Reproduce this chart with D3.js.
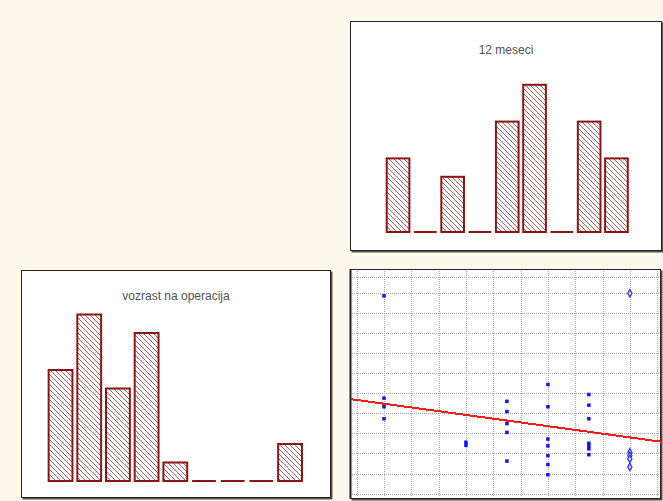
<!DOCTYPE html>
<html>
<head>
<meta charset="utf-8">
<script src="https://cdn.jsdelivr.net/npm/d3@7"></script>
<style>
  body { margin: 0; background: #fcf8eb; }
  svg { display: block; }
</style>
</head>
<body>
<script>
// histogram counts, 9 bins each
let binsTop = ["1", "2", "3", "4", "5", "6", "7", "8", "9"];
let countsTop = [4, 0, 3, 0, 6, 8, 0, 6, 4];
let titleTop = "12 meseci";

let binsBottom = ["1", "2", "3", "4", "5", "6", "7", "8", "9"];
let countsBottom = [6, 9, 5, 8, 1, 0, 0, 0, 2];
let titleBottom = "vozrast na operacija";

// scatter points (filled squares)
let scatterX = [1, 1, 1, 1,
    4, 4,
    5.5, 5.5, 5.5, 5.5, 5.5,
    7, 7, 7, 7, 7, 7, 7,
    8.5, 8.5, 8.5, 8.5, 8.5, 8.5, 8.5];
let scatterY = [9.86, 4.76, 4.33, 3.73,
    2.56, 2.41,
    4.6, 4.09, 3.49, 3.05, 1.62,
    5.44, 4.33, 2.72, 2.38, 1.89, 1.45, 0.94,
    4.94, 4.41, 3.73, 2.51, 2.37, 2.23, 1.94];
// hollow diamond points
let hollowX = [10, 10, 10, 10, 10];
let hollowY = [9.99, 2.06, 1.89, 1.73, 1.33];
// fitted line end points
let fitX = [-0.22, 11.13];
let fitY = [4.71, 2.59];
let gridX = [0, 1, 2, 3, 4, 5, 6, 7, 8, 9, 10, 11];
let gridY = [0, 1, 2, 3, 4, 5, 6, 7, 8, 9, 10, 10.8];

let width = 663,
    height = 501;
let barColor = "#8b1414";

let svg = d3.select("body").append("svg")
    .attr("width", width)
    .attr("height", height);

let defs = svg.append("defs");
defs.append("pattern")
    .attr("id", "hatch")
    .attr("patternUnits", "userSpaceOnUse")
    .attr("width", 5)
    .attr("height", 5)
    .append("path")
    .attr("d", "M-1,-1L6,6M-1,4L1,6M4,-1L6,1")
    .attr("stroke", "#9a3030")
    .attr("stroke-width", 0.8);

function panel(x0, y0, x1, y1) {
    let g = svg.append("g");
    g.append("rect")
        .attr("x", x0 + 1.5).attr("y", y0 + 1.5)
        .attr("width", x1 - x0).attr("height", y1 - y0)
        .attr("fill", "#555");
    g.append("rect")
        .attr("x", x0 + 0.5).attr("y", y0 + 0.5)
        .attr("width", x1 - x0 - 1).attr("height", y1 - y0 - 1)
        .attr("fill", "#fff")
        .attr("stroke", "#222")
        .attr("stroke-width", 1);
    return g;
}

function histogram(g, bins, counts, title, xr, base, unit, titleX, titleY) {
    let x = d3.scaleBand()
        .domain(bins)
        .range(xr)
        .paddingInner(0.17)
        .paddingOuter(0.085);
    let y = d3.scaleLinear()
        .domain([0, 9])
        .range([base, base - 9 * unit]);

    g.append("text")
        .attr("x", titleX)
        .attr("y", titleY)
        .attr("text-anchor", "middle")
        .attr("font-family", "Liberation Sans, Arial, sans-serif")
        .attr("font-size", 12)
        .attr("fill", "#50505a")
        .text(title);

    let data = bins.map((b, i) => ({bin: b, n: counts[i]}));

    g.selectAll(".bar")
        .data(data.filter(d => d.n > 0))
        .enter().append("rect")
        .attr("class", "bar")
        .attr("x", d => x(d.bin))
        .attr("y", d => y(d.n))
        .attr("width", x.bandwidth())
        .attr("height", d => y(0) - y(d.n))
        .attr("fill", "url(#hatch)")
        .attr("stroke", barColor)
        .attr("stroke-width", 2);

    g.selectAll(".empty")
        .data(data.filter(d => d.n === 0))
        .enter().append("line")
        .attr("class", "empty")
        .attr("x1", d => x(d.bin))
        .attr("x2", d => x(d.bin) + x.bandwidth())
        .attr("y1", y(0))
        .attr("y2", y(0))
        .attr("stroke", barColor)
        .attr("stroke-width", 2);
}

// top right histogram
let gTop = panel(350, 21, 662, 251);
histogram(gTop, binsTop, countsTop, titleTop, [384.4, 630.1], 232, 18.4, 506, 54);

// bottom left histogram
let gBottom = panel(21, 270, 331, 498);
histogram(gBottom, binsBottom, countsBottom, titleBottom, [46.2, 304.4], 481, 18.5, 176, 300);

// scatter panel
let gSc = panel(350, 269, 661, 499);
gSc.append("line")
    .attr("x1", 350.5).attr("x2", 350.5)
    .attr("y1", 269).attr("y2", 499)
    .attr("stroke", "#222").attr("stroke-width", 2);

let sx = d3.scaleLinear().domain([-0.22, 11.13]).range([350.7, 660.7]);
let sy = d3.scaleLinear().domain([-0.27, 11.2]).range([499, 269]);

gSc.selectAll(".gx")
    .data(gridX)
    .enter().append("line")
    .attr("class", "gx")
    .attr("x1", d => Math.round(sx(d)) + 0.5)
    .attr("x2", d => Math.round(sx(d)) + 0.5)
    .attr("y1", 271).attr("y2", 497)
    .attr("stroke", "#a8a8a8")
    .attr("stroke-dasharray", "1,1");

gSc.selectAll(".gy")
    .data(gridY)
    .enter().append("line")
    .attr("class", "gy")
    .attr("y1", d => Math.round(sy(d)) + 0.5)
    .attr("y2", d => Math.round(sy(d)) + 0.5)
    .attr("x1", 352).attr("x2", 659)
    .attr("stroke", "#a8a8a8")
    .attr("stroke-dasharray", "1,1");

gSc.append("line")
    .attr("x1", sx(fitX[0])).attr("y1", sy(fitY[0]))
    .attr("x2", sx(fitX[1])).attr("y2", sy(fitY[1]))
    .attr("stroke", "#ff1a1a")
    .attr("stroke-width", 2)
    .attr("shape-rendering", "crispEdges");

gSc.selectAll(".pt")
    .data(scatterX.map((v, i) => [v, scatterY[i]]))
    .enter().append("rect")
    .attr("class", "pt")
    .attr("x", d => sx(d[0]) - 1.75)
    .attr("y", d => sy(d[1]) - 1.75)
    .attr("width", 3.5)
    .attr("height", 3.5)
    .attr("fill", "#1010ff");

gSc.selectAll(".hp")
    .data(hollowX.map((v, i) => [v, hollowY[i]]))
    .enter().append("path")
    .attr("class", "hp")
    .attr("transform", d => "translate(" + sx(d[0]) + "," + sy(d[1]) + ")")
    .attr("d", d3.symbol().type(d3.symbolDiamond).size(16))
    .attr("fill", "#dde")
    .attr("stroke", "#2a2aff")
    .attr("stroke-width", 1.2);
</script>
</body>
</html>
